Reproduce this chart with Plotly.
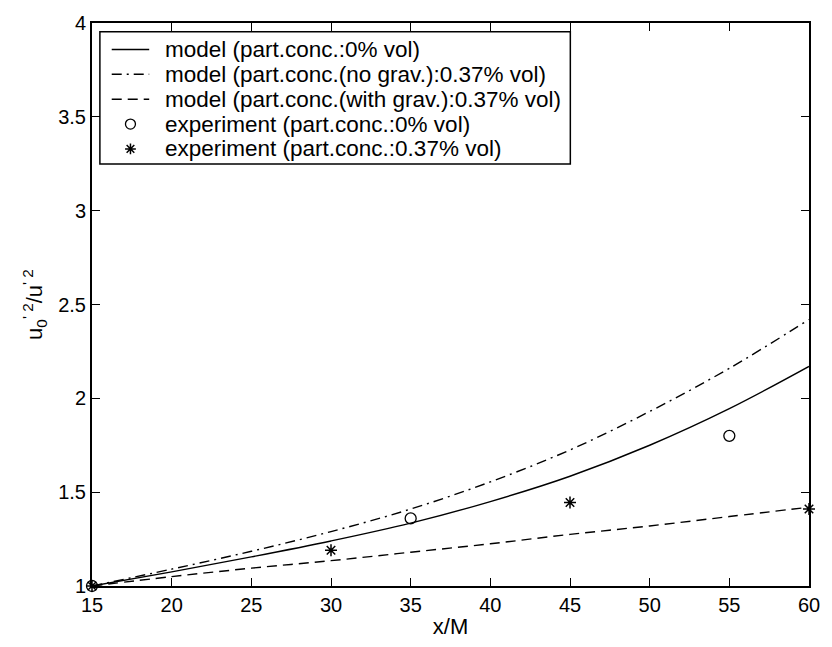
import plotly.graph_objects as go

# Model curves (sampled)
x_model = [15, 20, 25, 30, 35, 40, 45, 50, 55, 60]
y_model_0 = [1.00, 1.075, 1.155, 1.24, 1.335, 1.45, 1.585, 1.75, 1.945, 2.17]
y_model_nograv = [1.00, 1.09, 1.185, 1.29, 1.41, 1.555, 1.725, 1.93, 2.16, 2.42]
y_model_grav = [1.00, 1.05, 1.095, 1.135, 1.18, 1.225, 1.275, 1.32, 1.37, 1.42]

# Experiments
x_exp_0 = [15, 35, 55]
y_exp_0 = [1.00, 1.36, 1.80]
x_exp_037 = [15, 30, 45, 60]
y_exp_037 = [1.00, 1.19, 1.445, 1.41]

names = [
    "model (part.conc.:0% vol)",
    "model (part.conc.(no grav.):0.37% vol)",
    "model (part.conc.(with grav.):0.37% vol)",
    "experiment (part.conc.:0% vol)",
    "experiment (part.conc.:0.37% vol)",
]

FONT = "Liberation Sans, Arial, Helvetica, sans-serif"

W, H = 832, 647
ML, MR, MT, MB = 92, 13, 14, 58
PW, PH = W - ML - MR, H - MT - MB

def px(xp):
    return (xp - ML) / PW

def py(yp):
    return (H - MB - yp) / PH

DASHDOT = "10px,5px,2px,5px"
DASH = "10px,6px"
styles = [
    dict(kind="line", dash="solid"),
    dict(kind="line", dash=DASHDOT),
    dict(kind="line", dash=DASH),
    dict(kind="marker", symbol="circle-open", size=11, lw=1.3),
    dict(kind="marker", symbol="asterisk-open", size=10, lw=1.5),
]

fig = go.Figure()
fig.add_trace(go.Scatter(x=x_model, y=y_model_0, mode="lines", name=names[0],
                         line=dict(color="black", width=1.4, shape="spline", dash=styles[0]["dash"])))
fig.add_trace(go.Scatter(x=x_model, y=y_model_nograv, mode="lines", name=names[1],
                         line=dict(color="black", width=1.4, shape="spline", dash=styles[1]["dash"])))
fig.add_trace(go.Scatter(x=x_model, y=y_model_grav, mode="lines", name=names[2],
                         line=dict(color="black", width=1.4, shape="spline", dash=styles[2]["dash"])))
fig.add_trace(go.Scatter(x=x_exp_0, y=y_exp_0, mode="markers", name=names[3], cliponaxis=False,
                         marker=dict(symbol=styles[3]["symbol"], size=styles[3]["size"], color="black",
                                     line=dict(width=styles[3]["lw"]))))
fig.add_trace(go.Scatter(x=x_exp_037, y=y_exp_037, mode="markers", name=names[4], cliponaxis=False,
                         marker=dict(symbol=styles[4]["symbol"], size=styles[4]["size"], color="black",
                                     line=dict(width=styles[4]["lw"]))))

# ---- legend box drawn manually (MATLAB-style) ----
LEG_X0, LEG_X1, LEG_Y0, LEG_Y1 = 100, 577, 23, 158
ROW0, ROWH = 41, 25.4
shapes = [dict(type="rect", xref="paper", yref="paper",
               x0=px(LEG_X0), x1=px(LEG_X1), y0=py(LEG_Y1), y1=py(LEG_Y0),
               fillcolor="white", line=dict(color="black", width=1.5), layer="below")]
annotations = []
for i, (nm, st) in enumerate(zip(names, styles)):
    yrow = ROW0 + i * ROWH
    if st["kind"] == "line":
        shapes.append(dict(type="line", xref="paper", yref="paper",
                           x0=px(112), x1=px(150), y0=py(yrow), y1=py(yrow),
                           line=dict(color="black", width=1.4, dash=st["dash"]), layer="above"))
    else:
        fig.add_trace(go.Scatter(x=[px(131)], y=[py(yrow)], xaxis="x2", yaxis="y2", mode="markers",
                                 showlegend=False, hoverinfo="skip", cliponaxis=False,
                                 marker=dict(symbol=st["symbol"], size=st["size"] - 1, color="black",
                                             line=dict(width=st["lw"]))))
    annotations.append(dict(xref="paper", yref="paper", x=px(164), y=py(yrow),
                            xanchor="left", yanchor="middle", showarrow=False, text=nm,
                            font=dict(family=FONT, size=22.5, color="black")))

axis_common = dict(
    showline=True, linecolor="black", linewidth=2, mirror="allticks",
    ticks="inside", ticklen=8, tickwidth=1.3, tickcolor="black",
    showgrid=False, zeroline=False,
    tickfont=dict(family=FONT, size=20, color="black"),
)

fig.update_layout(
    width=W, height=H,
    margin=dict(l=ML, r=MR, t=MT, b=MB),
    paper_bgcolor="white", plot_bgcolor="white",
    font=dict(family=FONT, color="black"),
    showlegend=False,
    xaxis=dict(range=[15, 60], tick0=15, dtick=5,
               title=dict(text="x/M", font=dict(family=FONT, size=22), standoff=4),
               **axis_common),
    yaxis=dict(range=[1, 4], tick0=1, dtick=0.5,
               title=dict(text="u<sub>0</sub><sup>' 2</sup>/u<sup>' 2</sup>", font=dict(family=FONT, size=22), standoff=9),
               **axis_common),
    xaxis2=dict(overlaying="x", range=[0, 1], visible=False),
    yaxis2=dict(overlaying="y", range=[0, 1], visible=False),
    shapes=shapes,
    annotations=annotations,
)

fig.write_html("out.html")
